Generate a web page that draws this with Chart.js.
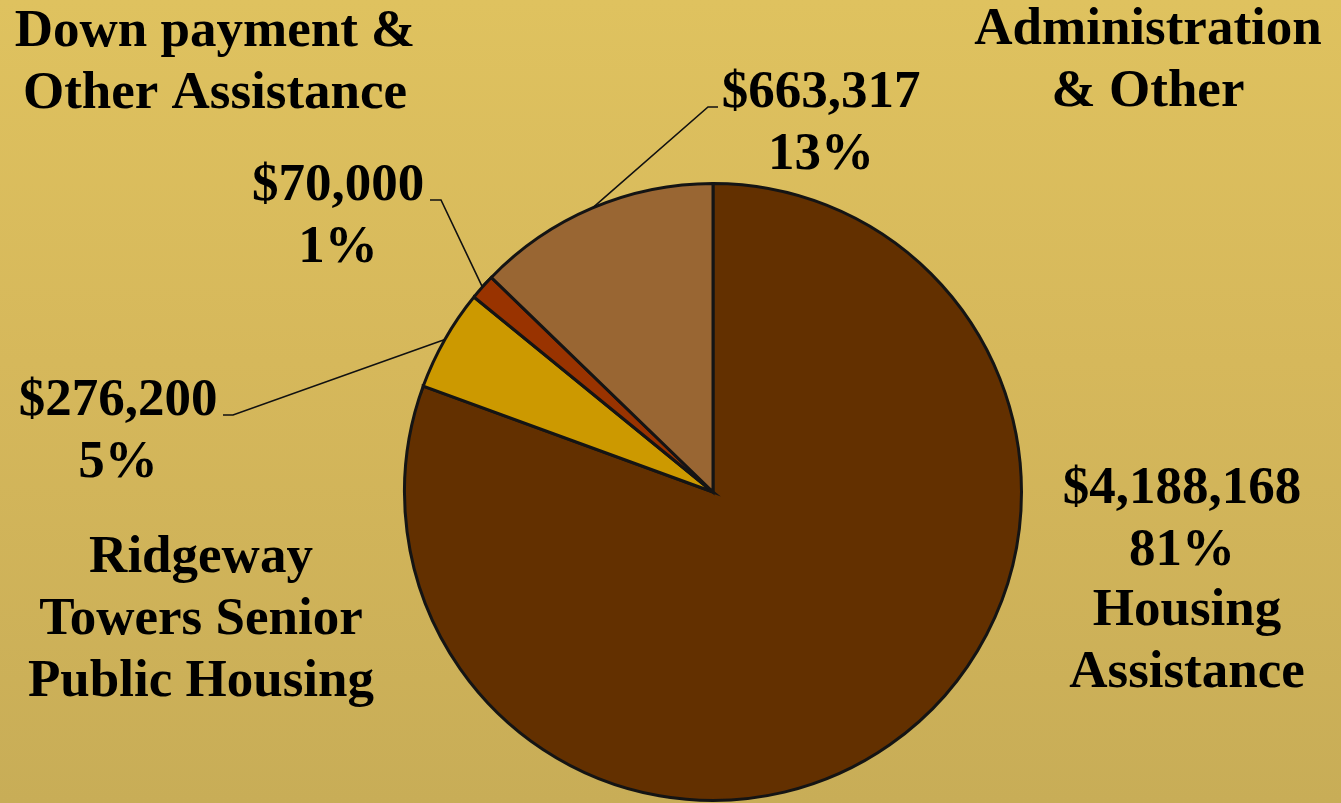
<!DOCTYPE html>
<html>
<head>
<meta charset="utf-8">
<script src="https://cdn.jsdelivr.net/npm/chart.js@4/dist/chart.umd.min.js"></script>
<style>
  html, body { margin: 0; padding: 0; overflow: hidden; }
  body { background: linear-gradient(to bottom, #dfc25f 0%, #d6b85b 45%, #c8ad57 100%); }
  #wrap { width: 1341px; height: 803px; position: relative; }
</style>
</head>
<body>
<div id="wrap"><canvas id="budgetPie"></canvas></div>
<script>
// slices, clockwise from 12 o'clock
const categories = ['Housing Assistance', 'Ridgeway Towers Senior Public Housing', 'Down payment & Other Assistance', 'Administration & Other'];
const amounts = [4188168, 276200, 70000, 663317];
const sliceColors = ['#633000', '#cc9900', '#993300', '#996633'];

// name blocks written beside the pie
const nameLines = [
    ['Housing', 'Assistance'],
    ['Ridgeway', 'Towers Senior', 'Public Housing'],
    ['Down payment &', 'Other Assistance'],
    ['Administration', '& Other']
];

const FONT = 'bold 53px "Liberation Serif", "Times New Roman", serif';
const LINE = 62;

// where each label goes: value block (x center, first baseline), name block, leader stub
const layoutInfo = [
    { vx: 1182, vy: 503, nx: 1187, ny: 625, leader: null },
    { vx: 118, vy: 415, nx: 201, ny: 572, leader: [223, 233, 415] },
    { vx: 338, vy: 200, nx: 215, ny: 46, leader: [430, 441, 200] },
    { vx: 821, vy: 107, nx: 1148, ny: 44, leader: [718, 708, 107] }
];

const total = amounts.reduce((acc, curr) => acc + curr, 0);

function money(v) {
    return '$' + v.toLocaleString('en-US');
}

const labelPlugin = {
    id: 'sliceLabels',
    afterDraw(chart) {
        const ctx = chart.ctx;
        const meta = chart.getDatasetMeta(0);
        ctx.save();
        ctx.font = FONT;
        ctx.fillStyle = '#000';
        ctx.textAlign = 'center';
        ctx.textBaseline = 'alphabetic';

        amounts.forEach((v, i) => {
            const pos = layoutInfo[i];
            const pct = Math.round(v / total * 100) + '%';
            ctx.fillText(money(v), pos.vx, pos.vy);
            ctx.fillText(pct, pos.vx, pos.vy + LINE);
            nameLines[i].forEach((t, j) => {
                ctx.fillText(t, pos.nx, pos.ny + j * LINE);
            });

            if (pos.leader) {
                const arc = meta.data[i];
                const mid = (arc.startAngle + arc.endAngle) / 2;
                const ex = arc.x + Math.cos(mid) * arc.outerRadius;
                const ey = arc.y + Math.sin(mid) * arc.outerRadius;
                ctx.beginPath();
                ctx.strokeStyle = '#111';
                ctx.lineWidth = 1.6;
                ctx.moveTo(pos.leader[0], pos.leader[2]);
                ctx.lineTo(pos.leader[1], pos.leader[2]);
                ctx.lineTo(ex, ey);
                ctx.stroke();
            }
        });
        ctx.restore();
    }
};

new Chart('budgetPie', {
    type: 'pie',
    data: {
        labels: categories,
        datasets: [{
            data: amounts,
            backgroundColor: sliceColors,
            borderColor: '#141414',
            borderWidth: 3,
            borderJoinStyle: 'miter'
        }]
    },
    options: {
        responsive: true,
        maintainAspectRatio: false,
        animation: false,
        layout: {
            padding: { left: 403, right: 318, top: 182, bottom: 1 }
        },
        plugins: {
            legend: { display: false },
            tooltip: { enabled: false }
        }
    },
    plugins: [labelPlugin]
});
</script>
</body>
</html>
